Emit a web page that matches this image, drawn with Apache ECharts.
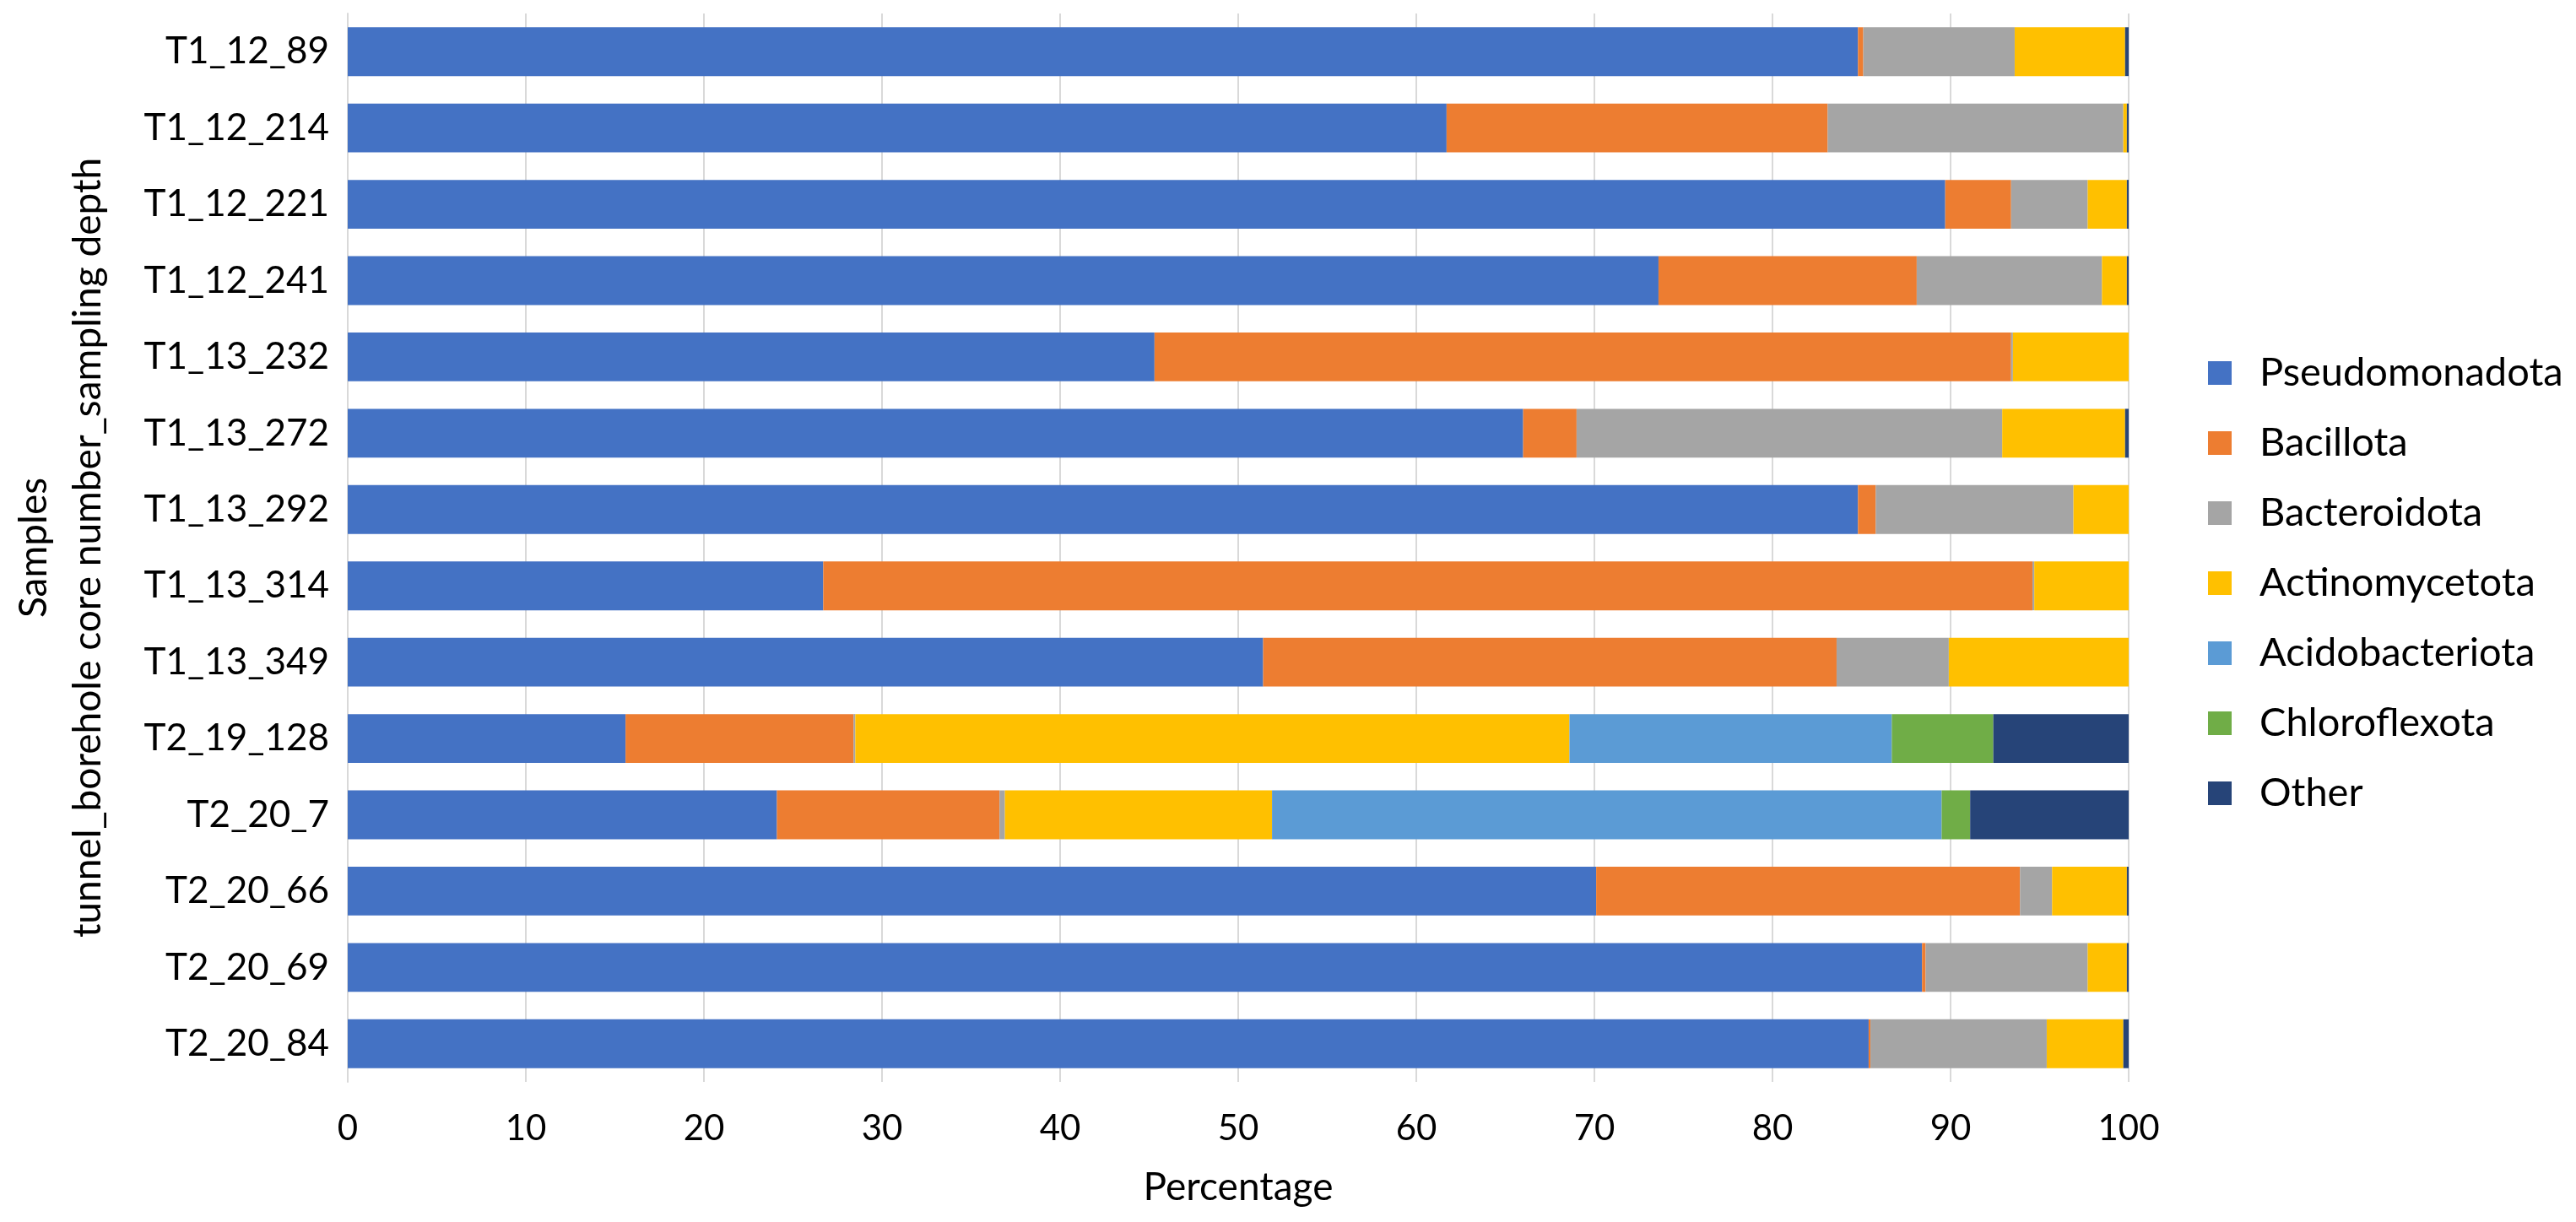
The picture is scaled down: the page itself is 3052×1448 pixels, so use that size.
<!DOCTYPE html>
<html>
<head>
<meta charset="utf-8">
<script src="https://cdn.jsdelivr.net/npm/echarts@6/dist/echarts.min.js"></script>
<style>html,body{margin:0;padding:0;background:#fff}#c{width:3052px;height:1448px}</style>
</head>
<body>
<div id="c"></div>
<script>
const samples = ["T1_12_89","T1_12_214","T1_12_221","T1_12_241","T1_13_232","T1_13_272","T1_13_292","T1_13_314","T1_13_349","T2_19_128","T2_20_7","T2_20_66","T2_20_69","T2_20_84"];
const pseudomonadota = [84.8, 61.7, 89.7, 73.6, 45.3, 66.0, 84.8, 26.7, 51.4, 15.6, 24.1, 70.1, 88.4, 85.4];
const bacillota      = [0.3, 21.4, 3.7, 14.5, 48.1, 3.0, 1.0, 67.9, 32.2, 12.8, 12.5, 23.8, 0.2, 0.1];
const bacteroidota   = [8.5, 16.6, 4.3, 10.4, 0.1, 23.9, 11.1, 0.1, 6.3, 0.1, 0.3, 1.8, 9.1, 9.9];
const actinomycetota = [6.2, 0.2, 2.2, 1.4, 6.5, 6.9, 3.1, 5.3, 10.1, 40.1, 15.0, 4.2, 2.2, 4.3];
const acidobacteriota= [0, 0, 0, 0, 0, 0, 0, 0, 0, 18.1, 37.6, 0, 0, 0];
const chloroflexota  = [0, 0, 0, 0, 0, 0, 0, 0, 0, 5.7, 1.6, 0, 0, 0];
const other          = [0.2, 0.1, 0.1, 0.1, 0, 0.2, 0, 0, 0, 7.6, 8.9, 0.1, 0.1, 0.3];
const seriesNames = ["Pseudomonadota","Bacillota","Bacteroidota","Actinomycetota","Acidobacteriota","Chloroflexota","Other"];
const seriesData = [pseudomonadota, bacillota, bacteroidota, actinomycetota, acidobacteriota, chloroflexota, other];
const colors = ["#4472C4","#ED7D31","#A5A5A5","#FFC000","#5B9BD5","#70AD47","#264478"];
const xTicks = [0,10,20,30,40,50,60,70,80,90,100];

const font = "Lato, 'Open Sans', sans-serif";
const chart = echarts.init(document.getElementById('c'));
chart.setOption({
  animation: false,
  color: colors,
  textStyle: {fontFamily: font},
  grid: {left: 399, right: 530, top: 16, bottom: 166, containLabel: false},
  legend: {
    orient: 'vertical', left: 2611, top: 412,
    itemWidth: 28, itemHeight: 28, itemGap: 33,
    icon: 'rect',
    data: seriesNames,
    textStyle: {fontFamily: font, fontSize: 47, color: '#000', lineHeight: 50, padding: [0,0,0,28]}
  },
  xAxis: {
    type: 'value', min: 0, max: 100, interval: 10,
    name: 'Percentage', nameLocation: 'middle', nameGap: 102,
    nameTextStyle: {fontFamily: font, fontSize: 46, color: '#000'},
    axisLine: {show: false}, axisTick: {show: false},
    axisLabel: {fontFamily: font, fontSize: 42, color: '#000', margin: 34,
      formatter: v => xTicks.includes(v) ? String(v) : ''},
    splitLine: {show: true, lineStyle: {color: '#D9D9D9', width: 2}}
  },
  yAxis: {
    type: 'category', data: samples, inverse: true,
    name: 'Samples\ntunnel_borehole core number_sampling depth',
    nameLocation: 'middle', nameGap: 276, nameRotate: 90,
    nameTextStyle: {fontFamily: font, fontSize: 46, color: '#000', lineHeight: 64},
    axisLine: {show: true, lineStyle: {color: '#D9D9D9', width: 2}},
    axisTick: {show: false},
    axisLabel: {fontFamily: font, fontSize: 44, color: '#000', margin: 22}
  },
  series: seriesNames.map((n, i) => ({
    name: n, type: 'bar', stack: 'total', barWidth: '64%',
    data: seriesData[i],
    itemStyle: {color: colors[i]}
  }))
});
</script>
</body>
</html>
